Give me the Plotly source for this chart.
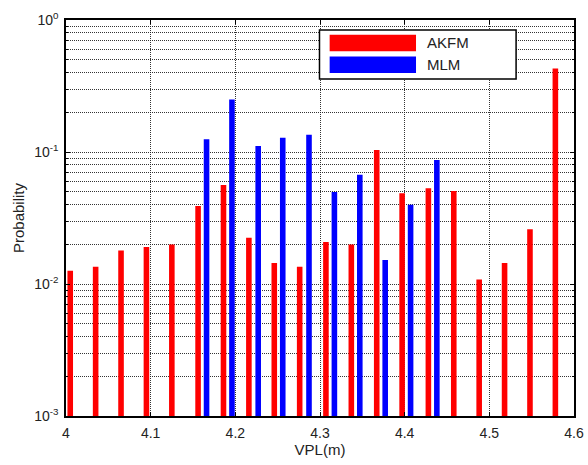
import plotly.graph_objects as go

# VPL bin centres (m) and probabilities
akfm_vpl = [4.005, 4.035, 4.065, 4.095, 4.125, 4.156, 4.186, 4.216, 4.246, 4.276,
            4.307, 4.337, 4.367, 4.397, 4.428, 4.458, 4.488, 4.518, 4.548, 4.578]
akfm_prob = [0.0126, 0.0135, 0.0179, 0.0191, 0.0199, 0.039, 0.0562, 0.0224, 0.0144, 0.0135,
             0.0208, 0.0199, 0.1036, 0.0487, 0.0531, 0.0507, 0.0108, 0.0144, 0.026, 0.43]

mlm_vpl = [4.166, 4.196, 4.227, 4.256, 4.287, 4.317, 4.347, 4.377, 4.407, 4.438]
mlm_prob = [0.125, 0.25, 0.111, 0.128, 0.135, 0.0498, 0.0673, 0.0152, 0.0399, 0.0869]

x_ticks = [4.0, 4.1, 4.2, 4.3, 4.4, 4.5, 4.6]
x_tick_text = ["4", "4.1", "4.2", "4.3", "4.4", "4.5", "4.6"]
y_ticks = [1e-3, 1e-2, 1e-1, 1]
y_tick_text = ["10<sup>-3</sup>", "10<sup>-2</sup>", "10<sup>-1</sup>", "10<sup>0</sup>"]
y_minor = [m * 10 ** e for e in (-3, -2, -1) for m in range(2, 10)]

series_names = ["AKFM", "MLM"]
series_colors = ["#ff0000", "#0000ff"]

bar_width = 0.0066
font = "Liberation Sans, Arial, sans-serif"

fig = go.Figure()
fig.add_trace(go.Bar(x=akfm_vpl, y=akfm_prob, width=bar_width, name=series_names[0],
                     marker=dict(color=series_colors[0], line=dict(width=0))))
fig.add_trace(go.Bar(x=mlm_vpl, y=mlm_prob, width=bar_width, name=series_names[1],
                     marker=dict(color=series_colors[1], line=dict(width=0))))

grid_color = "rgba(30,30,30,0.9)"
grid_dash = "1px,1px"
fig.update_layout(
    width=588, height=465,
    margin=dict(l=66, r=14, t=20, b=49, autoexpand=False),
    paper_bgcolor="white", plot_bgcolor="white",
    barmode="overlay", showlegend=False,
    font=dict(family=font, size=14, color="#222"),
    xaxis=dict(
        range=[4.0, 4.6], tickvals=x_ticks, ticktext=x_tick_text,
        showgrid=True, gridcolor=grid_color, griddash=grid_dash, gridwidth=1,
        showline=True, linecolor="black", linewidth=1.5, mirror="ticks",
        ticks="inside", ticklen=4, tickcolor="black",
        tickfont=dict(size=14), ticklabelstandoff=3, automargin=False,
        title=dict(text="VPL(m)", standoff=2, font=dict(size=15)),
        zeroline=False,
    ),
    yaxis=dict(
        type="log", range=[-3, 0], tickvals=y_ticks, ticktext=y_tick_text,
        showgrid=True, gridcolor=grid_color, griddash=grid_dash, gridwidth=1,
        showline=True, linecolor="black", linewidth=1.5, mirror="ticks",
        ticks="inside", ticklen=4, tickcolor="black",
        tickfont=dict(size=14), ticklabelstandoff=3, automargin=False,
        minor=dict(tickvals=y_minor, showgrid=True, gridcolor=grid_color,
                   griddash=grid_dash, gridwidth=1, ticks="inside", ticklen=2,
                   tickcolor="black"),
        title=dict(text="Probability", standoff=6, font=dict(size=15)),
        zeroline=False,
    ),
)

# Legend box with wide colour swatches
legend_shapes = [
    dict(type="rect", xref="paper", yref="paper", x0=0.499, x1=0.886, y0=0.851, y1=0.975,
         fillcolor="white", line=dict(color="black", width=1.5), layer="above"),
]
swatch_rows = [(0.942, series_colors[0], series_names[0]),
               (0.887, series_colors[1], series_names[1])]
for yc, color, name in swatch_rows:
    legend_shapes.append(dict(type="rect", xref="paper", yref="paper", x0=0.519, x1=0.689,
                              y0=yc - 0.021, y1=yc + 0.021, fillcolor=color,
                              line=dict(width=0), layer="above"))
    fig.add_annotation(xref="paper", yref="paper", x=0.706, y=yc, text=name,
                       showarrow=False, xanchor="left", yanchor="middle",
                       font=dict(family=font, size=15, color="#222"))
fig.update_layout(shapes=legend_shapes)

fig.write_html("out.html")
